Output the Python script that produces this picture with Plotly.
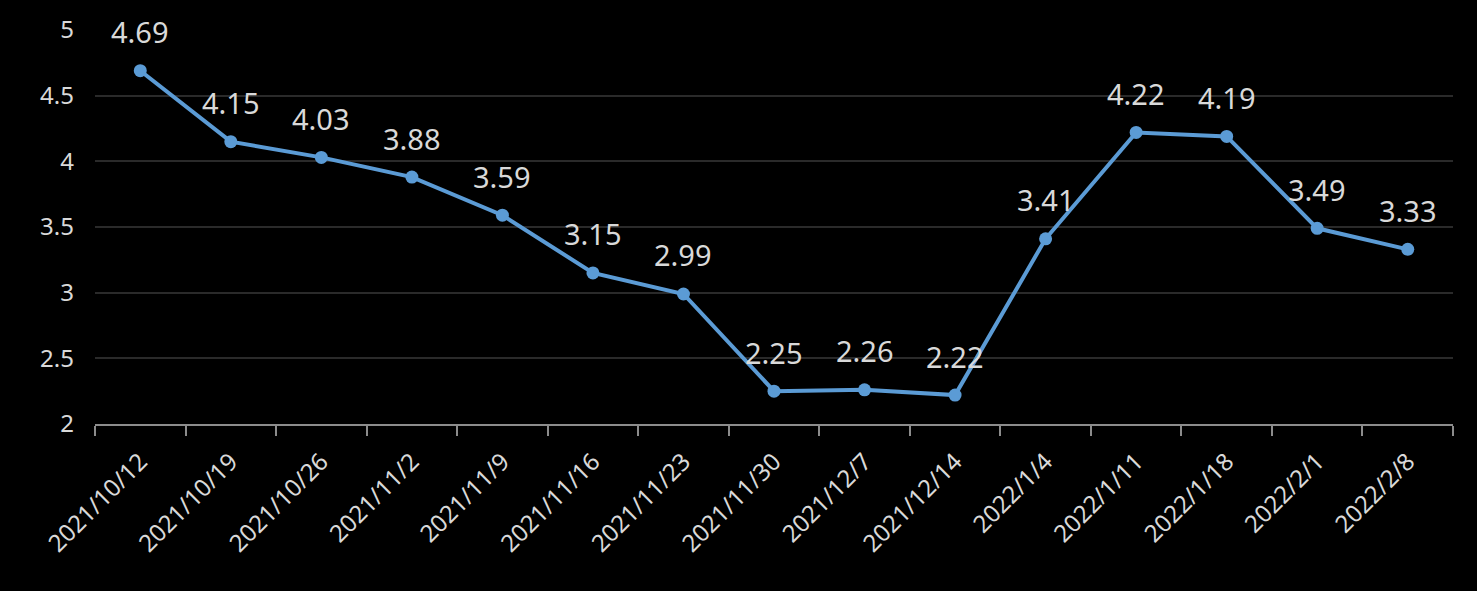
import plotly.graph_objects as go

dates = ["2021/10/12", "2021/10/19", "2021/10/26", "2021/11/2", "2021/11/9",
         "2021/11/16", "2021/11/23", "2021/11/30", "2021/12/7", "2021/12/14",
         "2022/1/4", "2022/1/11", "2022/1/18", "2022/2/1", "2022/2/8"]
values = [4.69, 4.15, 4.03, 3.88, 3.59, 3.15, 2.99, 2.25, 2.26, 2.22,
          3.41, 4.22, 4.19, 3.49, 3.33]

font_family = "Noto Sans, Open Sans, sans-serif"
text_color = "#d9d9d9"

fig = go.Figure()
fig.add_trace(go.Scatter(
    x=dates, y=values, mode="lines+markers",
    line=dict(color="#5B9BD5", width=4),
    marker=dict(color="#5B9BD5", size=13),
    hoverinfo="x+y",
))

for d, v in zip(dates, values):
    fig.add_annotation(x=d, y=v, text=f"{v:.2f}", showarrow=False,
                       yshift=39, font=dict(size=29, color=text_color, family=font_family))

fig.update_layout(
    width=1477, height=591,
    paper_bgcolor="#000000", plot_bgcolor="#000000",
    margin=dict(l=95, r=24, t=28, b=167),
    showlegend=False,
    font=dict(family=font_family, color=text_color),
    xaxis=dict(
        type="category", range=[-0.5, 14.5],
        tickson="boundaries", ticks="outside", ticklen=10, tickcolor="#8c8c8c", tickwidth=2,
        showline=True, linecolor="#8c8c8c", linewidth=2,
        showgrid=False, tickangle=-45,
        ticklabelstandoff=12,
        tickfont=dict(size=24, color=text_color, family=font_family),
    ),
    yaxis=dict(
        range=[2, 5], dtick=0.5, tick0=2,
        showgrid=True, gridcolor="#2a2a2a", gridwidth=1.5,
        zeroline=False, showline=False,
        ticklabelstandoff=20,
        tickfont=dict(size=24, color=text_color, family=font_family),
    ),
)

fig.write_html(
    "out.html",
    config={"displayModeBar": False},
    post_script="document.body.style.margin='0';document.body.style.background='#000';"
                "document.documentElement.style.background='#000';",
)
